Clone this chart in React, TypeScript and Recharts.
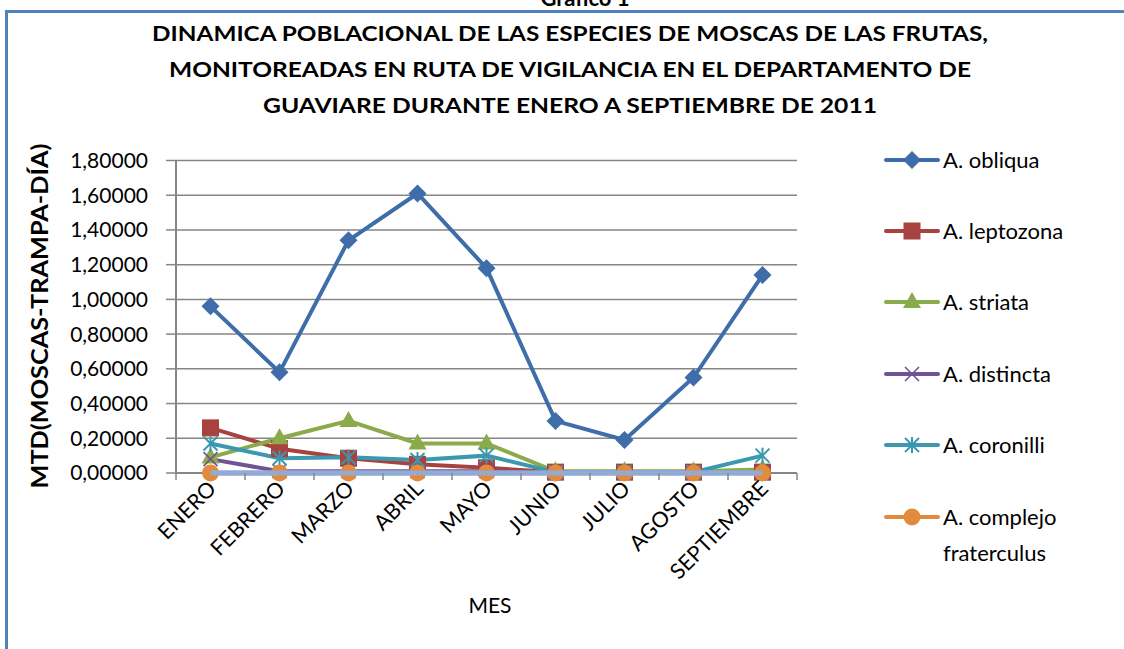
import React from 'react';
import { LineChart, Line, XAxis, YAxis, CartesianGrid } from 'recharts';

const months = ['ENERO', 'FEBRERO', 'MARZO', 'ABRIL', 'MAYO', 'JUNIO', 'JULIO', 'AGOSTO', 'SEPTIEMBRE'];
const obliqua = [0.96, 0.58, 1.34, 1.61, 1.18, 0.30, 0.19, 0.55, 1.14];
const leptozona = [0.26, 0.14, 0.085, 0.05, 0.03, 0.005, 0.005, 0.005, 0.005];
const striata = [0.09, 0.2, 0.3, 0.17, 0.17, 0.01, 0.01, 0.01, 0.02];
const distincta = [0.08, 0.01, 0.01, 0.01, 0.01, 0.0, 0.0, 0.0, 0.0];
const coronilli = [0.17, 0.085, 0.09, 0.075, 0.1, 0.005, 0.005, 0.005, 0.1];
const fraterculus = [0, 0, 0, 0, 0, 0, 0, 0, 0];
const serie7 = [0, 0, 0, 0, 0, 0, 0, 0, 0];
const yTicks = [0, 0.2, 0.4, 0.6, 0.8, 1.0, 1.2, 1.4, 1.6, 1.8];

const titleLines = [
  'DINAMICA POBLACIONAL DE LAS ESPECIES DE MOSCAS DE LAS FRUTAS,',
  'MONITOREADAS EN RUTA DE VIGILANCIA EN EL DEPARTAMENTO DE',
  'GUAVIARE DURANTE ENERO A SEPTIEMBRE DE 2011',
];

const data = months.map((m, i) => ({
  month: m,
  obliqua: obliqua[i],
  leptozona: leptozona[i],
  striata: striata[i],
  distincta: distincta[i],
  coronilli: coronilli[i],
  fraterculus: fraterculus[i],
  serie7: serie7[i],
}));

const FONT = 'Lato, "Open Sans", sans-serif';

type Shape = 'diamond' | 'square' | 'triangle' | 'x' | 'star' | 'circle' | 'bar';

function markerEl(shape: Shape, cx: number, cy: number, color: string, key?: string) {
  switch (shape) {
    case 'diamond':
      return <path key={key} d={`M${cx},${cy - 9}L${cx + 9},${cy}L${cx},${cy + 9}L${cx - 9},${cy}Z`} fill={color} />;
    case 'square':
      return <rect key={key} x={cx - 8.5} y={cy - 8.5} width={17} height={17} fill={color} />;
    case 'triangle':
      return <path key={key} d={`M${cx},${cy - 10}L${cx + 9},${cy + 6}L${cx - 9},${cy + 6}Z`} fill={color} />;
    case 'x':
      return (
        <g key={key} stroke={color} strokeWidth={1.6}>
          <line x1={cx - 7} y1={cy - 7} x2={cx + 7} y2={cy + 7} />
          <line x1={cx - 7} y1={cy + 7} x2={cx + 7} y2={cy - 7} />
        </g>
      );
    case 'star':
      return (
        <g key={key} stroke={color} strokeWidth={2}>
          <line x1={cx - 7} y1={cy - 7} x2={cx + 7} y2={cy + 7} />
          <line x1={cx - 7} y1={cy + 7} x2={cx + 7} y2={cy - 7} />
          <line x1={cx} y1={cy - 8} x2={cx} y2={cy + 8} />
        </g>
      );
    case 'bar':
      return <line key={key} x1={cx - 35} y1={cy} x2={cx + 35} y2={cy} stroke={color} strokeWidth={5} />;
    case 'circle':
    default:
      return <circle key={key} cx={cx} cy={cy} r={8.5} fill={color} />;
  }
}

const series: { key: string; name: string[]; color: string; shape: Shape }[] = [
  { key: 'obliqua', name: ['A. obliqua'], color: '#3E6DA9', shape: 'diamond' },
  { key: 'leptozona', name: ['A. leptozona'], color: '#A8423F', shape: 'square' },
  { key: 'striata', name: ['A. striata'], color: '#8BAA4A', shape: 'triangle' },
  { key: 'distincta', name: ['A. distincta'], color: '#6F5395', shape: 'x' },
  { key: 'coronilli', name: ['A. coronilli'], color: '#3A98B0', shape: 'star' },
  { key: 'fraterculus', name: ['A. complejo', 'fraterculus'], color: '#E38B3C', shape: 'circle' },
];

const legendY = [160, 231, 302, 374, 445, 517];

const fmt = (v: number) => v.toFixed(5).replace('.', ',');

const HALF_BAND = 34.5;

const XTick = (props: any) => {
  const { x, y, payload, index } = props;
  return (
    <g>
      <line x1={x - HALF_BAND} y1={y} x2={x - HALF_BAND} y2={y + 7} stroke="#868686" strokeWidth={1.5} />
      {index === months.length - 1 && (
        <line x1={x + HALF_BAND} y1={y} x2={x + HALF_BAND} y2={y + 7} stroke="#868686" strokeWidth={1.5} />
      )}
      <text
        transform={`translate(${x + 7},${y + 17}) rotate(-45)`}
        textAnchor="end"
        fontSize={21.5}
        fontFamily={FONT}
        fill="#000"
      >
        {payload.value}
      </text>
    </g>
  );
};

export default function App() {
  return (
    <div style={{ position: 'absolute', left: 0, top: 0, width: 1124, height: 649, overflow: 'hidden', background: '#fff' }}>
      <div
        style={{
          position: 'absolute',
          left: 5,
          top: 10,
          width: 1140,
          height: 700,
          border: '3px solid #4F81BD',
          boxSizing: 'border-box',
        }}
      />
      <LineChart
        width={1124}
        height={649}
        data={data}
        margin={{ top: 160.5, right: 327, bottom: 76, left: 0 }}
        style={{ position: 'absolute', left: 0, top: 0 }}
      >
        <CartesianGrid horizontal vertical={false} stroke="#868686" strokeWidth={1.5} />
        <XAxis
          dataKey="month"
          height={100}
          interval={0}
          padding={{ left: HALF_BAND, right: HALF_BAND }}
          tickLine={false}
          tickSize={0}
          tickMargin={0}
          axisLine={{ stroke: '#868686', strokeWidth: 2 }}
          tick={<XTick />}
        />
        <YAxis
          width={176}
          domain={[0, 1.8]}
          ticks={yTicks}
          tickFormatter={fmt}
          axisLine={{ stroke: '#868686', strokeWidth: 2 }}
          tickLine={{ stroke: '#868686', strokeWidth: 1.5 }}
          tickSize={10}
          tickMargin={18}
          tick={{ fontSize: 21, fontFamily: FONT, fill: '#000' }}
        />
        {series.map((s) => (
          <Line
            key={s.key}
            dataKey={s.key}
            type="linear"
            stroke={s.color}
            strokeWidth={4}
            isAnimationActive={false}
            dot={(p: any) => markerEl(s.shape, p.cx, p.cy, s.color, `${s.key}-${p.index}`)}
            activeDot={false}
          />
        ))}
        <Line
          dataKey="serie7"
          type="linear"
          stroke="#92AAD6"
          strokeWidth={5}
          dot={(p: any) =>
            p.index < months.length - 1 ? (
              <line
                key={`s7-${p.index}`}
                x1={p.cx}
                y1={p.cy}
                x2={p.cx + 2 * HALF_BAND}
                y2={p.cy}
                stroke="#92AAD6"
                strokeWidth={5}
              />
            ) : (
              <g key={`s7-${p.index}`} />
            )
          }
          activeDot={false}
          legendType="none"
          isAnimationActive={false}
        />
      </LineChart>
      <svg
        width={1124}
        height={649}
        style={{ position: 'absolute', left: 0, top: 0, pointerEvents: 'none' }}
      >
        <text x={585} y={6} textAnchor="middle" fontSize={22} fontWeight="bold" fontFamily={FONT} fill="#000">
          Gráfico 1
        </text>
        {titleLines.map((t, i) => (
          <text
            key={i}
            x={570}
            y={41 + i * 36}
            textAnchor="middle"
            fontSize={21}
            fontWeight="bold"
            fontFamily={FONT}
            fill="#000"
            textLength={[836, 802, 614][i]}
            lengthAdjust="spacingAndGlyphs"
          >
            {t}
          </text>
        ))}
        <text
          transform="translate(48,316) rotate(-90)"
          textAnchor="middle"
          fontSize={23}
          fontWeight="bold"
          fontFamily={FONT}
          fill="#000"
          textLength={345}
          lengthAdjust="spacingAndGlyphs"
        >
          MTD(MOSCAS-TRAMPA-DÍA)
        </text>
        <text x={490} y={613} textAnchor="middle" fontSize={21} fontFamily={FONT} fill="#000">
          MES
        </text>
        {series.map((s, i) => (
          <g key={s.key}>
            <line x1={886} y1={legendY[i]} x2={938} y2={legendY[i]} stroke={s.color} strokeWidth={4} strokeLinecap="round" />
            {markerEl(s.shape, 912, legendY[i], s.color)}
            {s.name.map((n, j) => (
              <text key={j} x={943} y={legendY[i] + 8 + j * 36} fontSize={22} fontFamily={FONT} fill="#000">
                {n}
              </text>
            ))}
          </g>
        ))}
      </svg>
    </div>
  );
}
